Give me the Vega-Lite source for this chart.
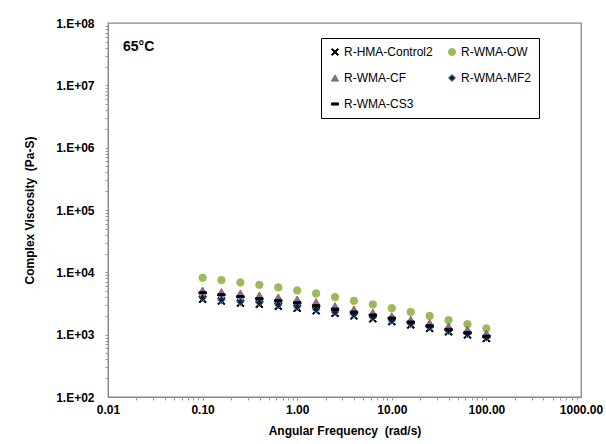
{
  "$schema": "https://vega.github.io/schema/vega-lite/v6.json",
  "width": 473,
  "height": 374,
  "autosize": {"type": "none"},
  "padding": {"left": 108, "top": 23, "right": 25, "bottom": 47},
  "background": "white",
  "config": {
    "font": "Liberation Sans",
    "view": {"stroke": "#868686", "strokeWidth": 1.3},
    "axis": {"grid": false}
  },
  "datasets": {
    "visc": [
      {"series": "R-HMA-Control2", "freq": 0.1, "visc": 3700},
      {"series": "R-HMA-Control2", "freq": 0.158, "visc": 3450},
      {"series": "R-HMA-Control2", "freq": 0.251, "visc": 3200},
      {"series": "R-HMA-Control2", "freq": 0.398, "visc": 3080},
      {"series": "R-HMA-Control2", "freq": 0.631, "visc": 2850},
      {"series": "R-HMA-Control2", "freq": 1.0, "visc": 2650},
      {"series": "R-HMA-Control2", "freq": 1.585, "visc": 2420},
      {"series": "R-HMA-Control2", "freq": 2.512, "visc": 2200},
      {"series": "R-HMA-Control2", "freq": 3.981, "visc": 2000},
      {"series": "R-HMA-Control2", "freq": 6.31, "visc": 1800},
      {"series": "R-HMA-Control2", "freq": 10.0, "visc": 1620},
      {"series": "R-HMA-Control2", "freq": 15.85, "visc": 1430},
      {"series": "R-HMA-Control2", "freq": 25.12, "visc": 1260},
      {"series": "R-HMA-Control2", "freq": 39.81, "visc": 1110},
      {"series": "R-HMA-Control2", "freq": 63.1, "visc": 990},
      {"series": "R-HMA-Control2", "freq": 100.0, "visc": 870},
      {"series": "R-WMA-OW", "freq": 0.1, "visc": 8170},
      {"series": "R-WMA-OW", "freq": 0.158, "visc": 7500},
      {"series": "R-WMA-OW", "freq": 0.251, "visc": 6890},
      {"series": "R-WMA-OW", "freq": 0.398, "visc": 6300},
      {"series": "R-WMA-OW", "freq": 0.631, "visc": 5730},
      {"series": "R-WMA-OW", "freq": 1.0, "visc": 5120},
      {"series": "R-WMA-OW", "freq": 1.585, "visc": 4580},
      {"series": "R-WMA-OW", "freq": 2.512, "visc": 4000},
      {"series": "R-WMA-OW", "freq": 3.981, "visc": 3490},
      {"series": "R-WMA-OW", "freq": 6.31, "visc": 3050},
      {"series": "R-WMA-OW", "freq": 10.0, "visc": 2660},
      {"series": "R-WMA-OW", "freq": 15.85, "visc": 2320},
      {"series": "R-WMA-OW", "freq": 25.12, "visc": 2000},
      {"series": "R-WMA-OW", "freq": 39.81, "visc": 1710},
      {"series": "R-WMA-OW", "freq": 63.1, "visc": 1475},
      {"series": "R-WMA-OW", "freq": 100.0, "visc": 1260},
      {"series": "R-WMA-CF", "freq": 0.1, "visc": 5180},
      {"series": "R-WMA-CF", "freq": 0.158, "visc": 4870},
      {"series": "R-WMA-CF", "freq": 0.251, "visc": 4640},
      {"series": "R-WMA-CF", "freq": 0.398, "visc": 4300},
      {"series": "R-WMA-CF", "freq": 0.631, "visc": 4000},
      {"series": "R-WMA-CF", "freq": 1.0, "visc": 3710},
      {"series": "R-WMA-CF", "freq": 1.585, "visc": 3360},
      {"series": "R-WMA-CF", "freq": 2.512, "visc": 2900},
      {"series": "R-WMA-CF", "freq": 3.981, "visc": 2560},
      {"series": "R-WMA-CF", "freq": 6.31, "visc": 2270},
      {"series": "R-WMA-CF", "freq": 10.0, "visc": 2000},
      {"series": "R-WMA-CF", "freq": 15.85, "visc": 1750},
      {"series": "R-WMA-CF", "freq": 25.12, "visc": 1550},
      {"series": "R-WMA-CF", "freq": 39.81, "visc": 1370},
      {"series": "R-WMA-CF", "freq": 63.1, "visc": 1210},
      {"series": "R-WMA-CF", "freq": 100.0, "visc": 1060},
      {"series": "R-WMA-MF2", "freq": 0.1, "visc": 3900},
      {"series": "R-WMA-MF2", "freq": 0.158, "visc": 3620},
      {"series": "R-WMA-MF2", "freq": 0.251, "visc": 3360},
      {"series": "R-WMA-MF2", "freq": 0.398, "visc": 3240},
      {"series": "R-WMA-MF2", "freq": 0.631, "visc": 3010},
      {"series": "R-WMA-MF2", "freq": 1.0, "visc": 2790},
      {"series": "R-WMA-MF2", "freq": 1.585, "visc": 2540},
      {"series": "R-WMA-MF2", "freq": 2.512, "visc": 2300},
      {"series": "R-WMA-MF2", "freq": 3.981, "visc": 2110},
      {"series": "R-WMA-MF2", "freq": 6.31, "visc": 1890},
      {"series": "R-WMA-MF2", "freq": 10.0, "visc": 1690},
      {"series": "R-WMA-MF2", "freq": 15.85, "visc": 1490},
      {"series": "R-WMA-MF2", "freq": 25.12, "visc": 1310},
      {"series": "R-WMA-MF2", "freq": 39.81, "visc": 1150},
      {"series": "R-WMA-MF2", "freq": 63.1, "visc": 1030},
      {"series": "R-WMA-MF2", "freq": 100.0, "visc": 900},
      {"series": "R-WMA-CS3", "freq": 0.1, "visc": 4690},
      {"series": "R-WMA-CS3", "freq": 0.158, "visc": 4350},
      {"series": "R-WMA-CS3", "freq": 0.251, "visc": 4050},
      {"series": "R-WMA-CS3", "freq": 0.398, "visc": 3760},
      {"series": "R-WMA-CS3", "freq": 0.631, "visc": 3490},
      {"series": "R-WMA-CS3", "freq": 1.0, "visc": 3240},
      {"series": "R-WMA-CS3", "freq": 1.585, "visc": 2900},
      {"series": "R-WMA-CS3", "freq": 2.512, "visc": 2560},
      {"series": "R-WMA-CS3", "freq": 3.981, "visc": 2300},
      {"series": "R-WMA-CS3", "freq": 6.31, "visc": 2060},
      {"series": "R-WMA-CS3", "freq": 10.0, "visc": 1840},
      {"series": "R-WMA-CS3", "freq": 15.85, "visc": 1590},
      {"series": "R-WMA-CS3", "freq": 25.12, "visc": 1380},
      {"series": "R-WMA-CS3", "freq": 39.81, "visc": 1210},
      {"series": "R-WMA-CS3", "freq": 63.1, "visc": 1070},
      {"series": "R-WMA-CS3", "freq": 100.0, "visc": 935}
    ],
    "note": [{"label": "65°C"}]
  },
  "resolve": {
    "scale": {"x": "independent", "y": "independent"},
    "axis": {"x": "independent", "y": "independent"}
  },
  "layer": [
    {
      "data": {"name": "visc"},
      "mark": {"type": "point", "filled": true, "opacity": 1, "strokeWidth": 1},
      "encoding": {
        "x": {
          "field": "freq", "type": "quantitative",
          "scale": {"type": "log", "domain": [0.01, 1000], "nice": false},
          "axis": {
            "orient": "bottom",
            "values": [0.01, 0.1, 1, 10, 100, 1000],
            "format": ".2f",
            "ticks": false,
            "domainColor": "#868686",
            "labelFont": "Liberation Sans", "labelFontSize": 12, "labelFontWeight": "bold", "labelColor": "black",
            "labelPadding": 7, "labelFlush": false, "labelOverlap": false,
            "title": "Angular Frequency \u00a0(rad/s)",
            "titleFont": "Liberation Sans", "titleFontSize": 12, "titleFontWeight": "bold", "titleColor": "black",
            "titlePadding": 10
          }
        },
        "y": {
          "field": "visc", "type": "quantitative",
          "scale": {"type": "log", "domain": [100, 100000000], "nice": false},
          "axis": {
            "orient": "left",
            "values": [100, 1000, 10000, 100000, 1000000, 10000000, 100000000],
            "labelExpr": "'1.E+0' + round(log(datum.value) / LN10)",
            "ticks": false,
            "domainColor": "#868686",
            "labelFont": "Liberation Sans", "labelFontSize": 12, "labelFontWeight": "bold", "labelColor": "black",
            "labelPadding": 14, "labelFlush": false, "labelOverlap": false,
            "title": "Complex Viscosity \u00a0(Pa-S)",
            "titleFont": "Liberation Sans", "titleFontSize": 12, "titleFontWeight": "bold", "titleColor": "black",
            "titlePadding": 19
          }
        },
        "shape": {
          "field": "series", "type": "nominal",
          "scale": {
            "domain": ["R-HMA-Control2", "R-WMA-OW", "R-WMA-CF", "R-WMA-MF2", "R-WMA-CS3"],
            "range": [
              "M-1,-0.75L-0.75,-1L0,-0.25L0.75,-1L1,-0.75L0.25,0L1,0.75L0.75,1L0,0.25L-0.75,1L-1,0.75L-0.25,0Z",
              "circle",
              "triangle-up",
              "diamond",
              "M-1,-0.3L1,-0.3L1,0.3L-1,0.3Z"
            ]
          },
          "legend": {
            "title": null,
            "orient": "none",
            "legendX": 213,
            "legendY": 15,
            "columns": 2,
            "direction": "horizontal",
            "strokeColor": "black",
            "fillColor": "white",
            "padding": 8,
            "rowPadding": 14,
            "columnPadding": 13,
            "symbolSize": 50,
            "symbolStrokeWidth": 1,
            "labelFont": "Liberation Sans",
            "labelFontSize": 12,
            "labelColor": "black",
            "labelOffset": 3,
            "labelLimit": 200
          }
        },
        "fill": {
          "field": "series", "type": "nominal",
          "scale": {
            "domain": ["R-HMA-Control2", "R-WMA-OW", "R-WMA-CF", "R-WMA-MF2", "R-WMA-CS3"],
            "range": ["#000000", "#9BBB59", "#4F81BD", "#0f1f3a", "#000000"]
          },
          "legend": null
        },
        "stroke": {
          "field": "series", "type": "nominal",
          "scale": {
            "domain": ["R-HMA-Control2", "R-WMA-OW", "R-WMA-CF", "R-WMA-MF2", "R-WMA-CS3"],
            "range": ["#000000", "#9BBB59", "#C0504D", "#4F81BD", "#000000"]
          },
          "legend": null
        },
        "size": {"value": 55}
      }
    },
    {
      "data": {"name": "note"},
      "mark": {"type": "text", "font": "Liberation Sans", "fontSize": 14, "fontWeight": "bold", "align": "left", "baseline": "middle", "color": "black"},
      "encoding": {
        "text": {"field": "label", "type": "nominal"},
        "x": {
          "datum": 0.0144, "type": "quantitative",
          "scale": {"type": "log", "domain": [0.01, 1000], "nice": false},
          "axis": {
            "orient": "bottom",
            "values": [0.02, 0.03, 0.04, 0.05, 0.06, 0.07, 0.08, 0.09, 0.1, 0.2, 0.3, 0.4, 0.5, 0.6, 0.7, 0.8, 0.9, 1, 2, 3, 4, 5, 6, 7, 8, 9, 10, 20, 30, 40, 50, 60, 70, 80, 90, 100, 200, 300, 400, 500, 600, 700, 800, 900],
            "labels": false, "domain": false, "title": null, "ticks": true,
            "tickSize": 3, "tickColor": "#9a9a9a", "tickWidth": 1
          }
        },
        "y": {
          "datum": 41000000, "type": "quantitative",
          "scale": {"type": "log", "domain": [100, 100000000], "nice": false},
          "axis": {
            "orient": "left",
            "values": [200, 300, 400, 500, 600, 700, 800, 900, 1000, 2000, 3000, 4000, 5000, 6000, 7000, 8000, 9000, 10000, 20000, 30000, 40000, 50000, 60000, 70000, 80000, 90000, 100000, 200000, 300000, 400000, 500000, 600000, 700000, 800000, 900000, 1000000, 2000000, 3000000, 4000000, 5000000, 6000000, 7000000, 8000000, 9000000, 10000000, 20000000, 30000000, 40000000, 50000000, 60000000, 70000000, 80000000, 90000000],
            "labels": false, "domain": false, "title": null, "ticks": true,
            "tickSize": 3, "tickColor": "#9a9a9a", "tickWidth": 1
          }
        }
      }
    }
  ]
}
